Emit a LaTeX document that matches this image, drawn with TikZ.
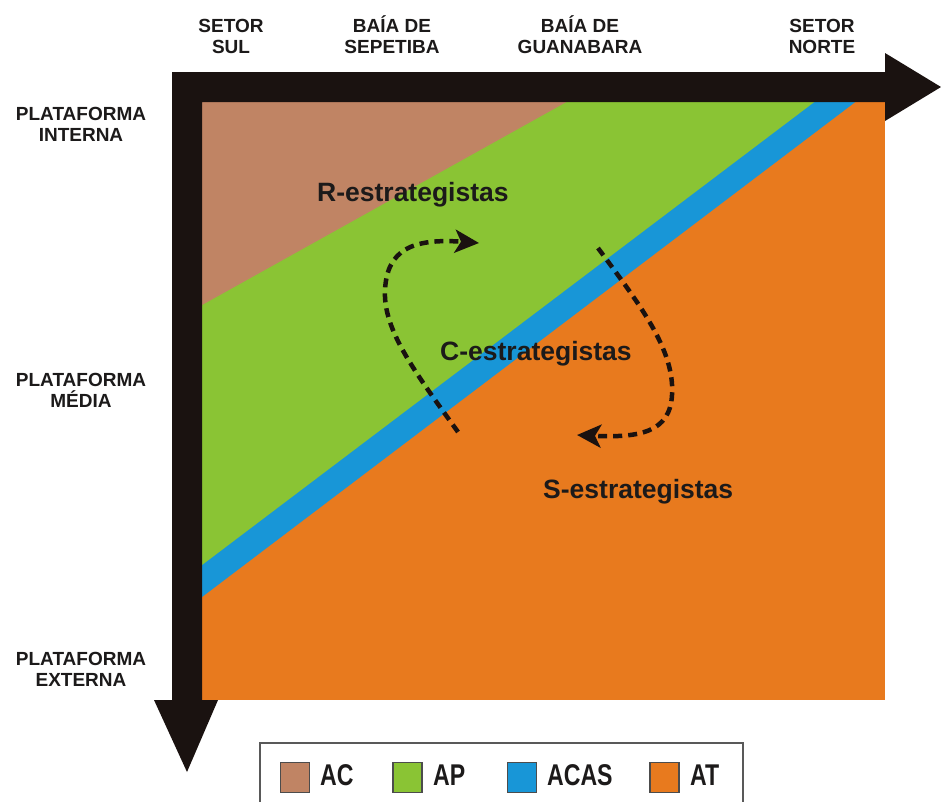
\documentclass[tikz,border=0pt]{standalone}
\usepackage{fontspec}
\setmainfont{Liberation Sans}
\usetikzlibrary{arrows.meta}
\definecolor{acC}{RGB}{192,132,100}
\definecolor{apC}{RGB}{138,196,52}
\definecolor{acasC}{RGB}{24,150,215}
\definecolor{atC}{RGB}{232,122,30}
\definecolor{axisC}{RGB}{26,18,16}
\definecolor{txtC}{RGB}{28,26,26}
\newcommand{\legnarrow}[1]{\scalebox{0.77}[1]{#1}}
\tikzset{
  axlabel/.style={font=\fontsize{19}{21.5}\selectfont\bfseries, align=center, inner sep=0pt, anchor=south, text=txtC},
  strat/.style={font=\fontsize{26.5}{30}\selectfont\bfseries, inner sep=0pt, anchor=base west, text=txtC},
  cyc/.style={line width=4.5pt, dash pattern=on 9pt off 6pt, draw=axisC, -{Stealth[length=24pt,width=23pt,inset=6pt]}},
  legsq/.style={draw=black!70, line width=1.3pt, minimum width=29pt, minimum height=30pt, inner sep=0pt},
  legtxt/.style={font=\fontsize{30}{32}\selectfont\bfseries, inner sep=0pt, anchor=base west, text=txtC},
}
\begin{document}
\begin{tikzpicture}[x=1pt,y=-1pt]
\useasboundingbox (0,0) rectangle (941,801);
\clip (0,0) rectangle (941,801);
\fill[white] (0,0) rectangle (941,801);
% zones
\fill[atC] (202,100) rectangle (885,700);
\fill[acasC] (202,100) -- (858,100) -- (202,597) -- cycle;
\fill[apC] (202,100) -- (817,100) -- (202,565) -- cycle;
\fill[acC] (202,100) -- (570,100) -- (202,305) -- cycle;
% axes
\fill[axisC] (172,72) -- (885,72) -- (885,53) -- (941,87) -- (885,121) -- (885,102) -- (202,102) -- (202,700) -- (218,700) -- (187,772) -- (154,700) -- (172,700) -- cycle;
% top labels
\node[axlabel] (sul) at (231,54) {SETOR\\SUL};
\node[axlabel] (sep) at (392,54) {BAÍA DE\\SEPETIBA};
\node[axlabel] (gua) at (580,54) {BAÍA DE\\GUANABARA};
\node[axlabel] (nor) at (822,54) {SETOR\\NORTE};
% left labels
\node[axlabel] (pint) at (81,142) {PLATAFORMA\\INTERNA};
\node[axlabel] (pmed) at (81,408) {PLATAFORMA\\MÉDIA};
\node[axlabel] (pext) at (81,687) {PLATAFORMA\\EXTERNA};
% strategies
\node[strat] (r) at (317,201) {R-estrategistas};
\node[strat] (c) at (440,360) {C-estrategistas};
\node[strat] (s) at (543,498) {S-estrategistas};
% cycle arrows
\coordinate (l0) at (458,432);
\coordinate (l1) at (479,243);
\coordinate (r0) at (598,248);
\coordinate (r1) at (577,435);
\draw[cyc] (l0) .. controls (415,372) and (383,330) .. (385,290) .. controls (387,250) and (412,238) .. (l1);
\draw[cyc] (r0) .. controls (640,305) and (675,350) .. (672,395) .. controls (670,432) and (640,438) .. (r1);
% legend
\draw[black!65, line width=1.5pt, fill=white] (260,743) rectangle (743,830);
\node[legsq, fill=acC] (sqac) at (295,777.5) {};
\node[legsq, fill=apC] (sqap) at (407.5,777.5) {};
\node[legsq, fill=acasC] (sqacas) at (522,777.5) {};
\node[legsq, fill=atC] (sqat) at (664.5,777.5) {};
\node[legtxt] (tac) at (320,785) {\legnarrow{AC}};
\node[legtxt] (tap) at (433,785) {\legnarrow{AP}};
\node[legtxt] (tacas) at (547,785) {\legnarrow{ACAS}};
\node[legtxt] (tat) at (690,785) {\legnarrow{AT}};
\end{tikzpicture}
\end{document}
